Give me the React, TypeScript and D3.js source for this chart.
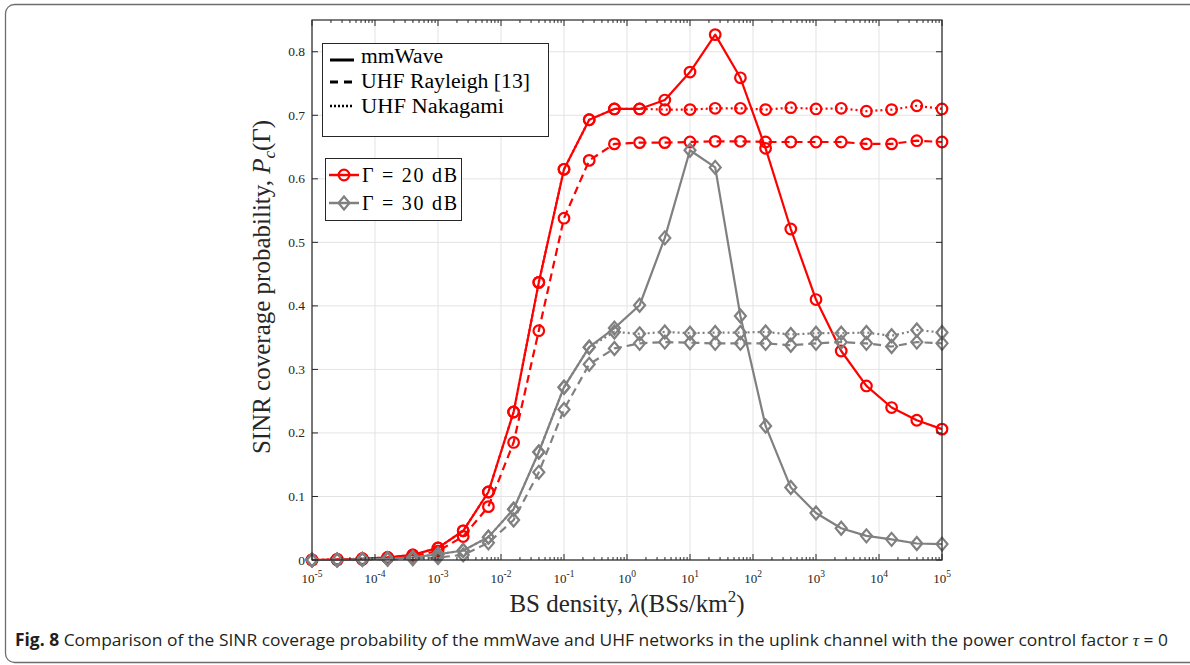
import React from "react";
import * as d3 from "d3";

// BS density samples (BSs/km^2)
const density = [1e-5, 2.512e-5, 6.31e-5, 1.585e-4, 3.981e-4, 1e-3, 2.512e-3, 6.31e-3, 1.585e-2, 3.981e-2, 0.1, 0.2512, 0.631, 1.585, 3.981, 10, 25.12, 63.1, 158.5, 398.1, 1000, 2512, 6310, 15850, 39810, 1e5];

const mm20 = [0.000, 0.001, 0.002, 0.004, 0.008, 0.019, 0.046, 0.107, 0.233, 0.437, 0.615, 0.693, 0.710, 0.710, 0.724, 0.768, 0.827, 0.759, 0.648, 0.521, 0.410, 0.329, 0.274, 0.240, 0.220, 0.206];
const ray20 = [0.000, 0.000, 0.001, 0.003, 0.006, 0.014, 0.037, 0.084, 0.185, 0.361, 0.538, 0.629, 0.655, 0.657, 0.657, 0.658, 0.659, 0.659, 0.658, 0.658, 0.658, 0.658, 0.655, 0.655, 0.660, 0.658];
const nak20 = [0.000, 0.001, 0.002, 0.004, 0.008, 0.019, 0.046, 0.107, 0.233, 0.437, 0.615, 0.693, 0.710, 0.710, 0.709, 0.709, 0.711, 0.711, 0.709, 0.712, 0.710, 0.711, 0.7065, 0.709, 0.715, 0.710];

const mm30 = [0.000, 0.000, 0.001, 0.002, 0.004, 0.009, 0.015, 0.036, 0.080, 0.170, 0.272, 0.335, 0.365, 0.401, 0.507, 0.645, 0.618, 0.384, 0.211, 0.114, 0.074, 0.050, 0.038, 0.0325, 0.026, 0.025];
const ray30 = [0.000, 0.000, 0.001, 0.001, 0.002, 0.004, 0.008, 0.027, 0.063, 0.138, 0.237, 0.308, 0.333, 0.341, 0.343, 0.342, 0.341, 0.341, 0.341, 0.338, 0.341, 0.343, 0.341, 0.336, 0.343, 0.341];
const nak30 = [0.000, 0.000, 0.001, 0.002, 0.004, 0.009, 0.015, 0.036, 0.080, 0.170, 0.272, 0.335, 0.359, 0.356, 0.359, 0.357, 0.358, 0.358, 0.359, 0.355, 0.357, 0.357, 0.358, 0.353, 0.362, 0.358];

const xTickExps = [-5, -4, -3, -2, -1, 0, 1, 2, 3, 4, 5];
const yTicks = [0, 0.1, 0.2, 0.3, 0.4, 0.5, 0.6, 0.7, 0.8];
const yTickLabels = ["0", "0.1", "0.2", "0.3", "0.4", "0.5", "0.6", "0.7", "0.8"];

const RED = "#ff0000";
const GRAY = "#808080";
const SERIF = "'Liberation Serif', 'Times New Roman', serif";

const L = 312, R = 942, T = 20, B = 560;

export default function App() {
  const x = d3.scaleLog().domain([1e-5, 1e5]).range([L, R]);
  const y = d3.scaleLinear().domain([0, 0.85]).range([B, T]);
  const line = d3.line<number>().x((_, i) => x(density[i])).y((d) => y(d));

  const minor: number[] = [];
  for (let k = -5; k < 5; k++) for (let m = 2; m <= 9; m++) minor.push(m * Math.pow(10, k));

  const series = [
    { data: mm20, color: RED, dash: undefined, marker: "o" },
    { data: ray20, color: RED, dash: "8,5", marker: "o" },
    { data: nak20, color: RED, dash: "2,3", marker: "o" },
    { data: mm30, color: GRAY, dash: undefined, marker: "d" },
    { data: ray30, color: GRAY, dash: "8,5", marker: "d" },
    { data: nak30, color: GRAY, dash: "2,3", marker: "d" },
  ];

  const marker = (kind: string, cx: number, cy: number, color: string, key: string) =>
    kind === "o" ? (
      <circle key={key} cx={cx} cy={cy} r={5.3} fill="none" stroke={color} strokeWidth={2.2} />
    ) : (
      <path key={key} d={`M${cx},${cy - 6.5}L${cx + 5.5},${cy}L${cx},${cy + 6.5}L${cx - 5.5},${cy}Z`} fill="none" stroke={color} strokeWidth={2.2} />
    );

  return (
    <svg width={1190} height={665} style={{ position: "absolute", left: 0, top: 0, background: "#fff" }}>
      <rect x={5.5} y={4.5} width={1300} height={658} rx={9} fill="#fff" stroke="#6e6e6e" strokeWidth={1.3} />

      {/* grid */}
      {xTickExps.map((e) => (
        <line key={"gx" + e} x1={x(Math.pow(10, e))} x2={x(Math.pow(10, e))} y1={T} y2={B} stroke="#e3e3e3" strokeWidth={1} />
      ))}
      {yTicks.map((v) => (
        <line key={"gy" + v} x1={L} x2={R} y1={y(v)} y2={y(v)} stroke="#e3e3e3" strokeWidth={1} />
      ))}

      {/* series */}
      {series.map((s, si) => (
        <g key={"s" + si}>
          <path d={line(s.data) || ""} fill="none" stroke={s.color} strokeWidth={2.2} strokeDasharray={s.dash} strokeLinejoin="round" />
          {s.data.map((v, i) => marker(s.marker, x(density[i]), y(v), s.color, "m" + si + "-" + i))}
        </g>
      ))}

      {/* axes box */}
      <rect x={L} y={T} width={R - L} height={B - T} fill="none" stroke="#262626" strokeWidth={1.2} />
      {xTickExps.map((e) => (
        <g key={"tx" + e}>
          <line x1={x(Math.pow(10, e))} x2={x(Math.pow(10, e))} y1={B} y2={B - 6} stroke="#262626" />
          <line x1={x(Math.pow(10, e))} x2={x(Math.pow(10, e))} y1={T} y2={T + 6} stroke="#262626" />
          <text x={x(Math.pow(10, e))} y={583} textAnchor="middle" fontFamily={SERIF} fontSize={13} fill="#262626">
            10<tspan dy={-6} fontSize={9.5}>{e}</tspan>
          </text>
        </g>
      ))}
      {minor.map((v, i) => (
        <g key={"mx" + i}>
          <line x1={x(v)} x2={x(v)} y1={B} y2={B - 3} stroke="#262626" />
          <line x1={x(v)} x2={x(v)} y1={T} y2={T + 3} stroke="#262626" />
        </g>
      ))}
      {yTicks.map((v, i) => (
        <g key={"ty" + v}>
          <line x1={L} x2={L + 6} y1={y(v)} y2={y(v)} stroke="#262626" />
          <line x1={R} x2={R - 6} y1={y(v)} y2={y(v)} stroke="#262626" />
          <text x={305} y={y(v) + 4.5} textAnchor="end" fontFamily={SERIF} fontSize={13.5} fill="#262626">
            {yTickLabels[i]}
          </text>
        </g>
      ))}

      {/* axis labels */}
      <text x={627} y={612} textAnchor="middle" fontFamily={SERIF} fontSize={25} fill="#262626">
        BS density, <tspan fontStyle="italic">λ</tspan>(BSs/km<tspan dy={-10} fontSize={17}>2</tspan><tspan dy={10}>)</tspan>
      </text>
      <text transform="translate(270,287) rotate(-90)" textAnchor="middle" fontFamily={SERIF} fontSize={25} fill="#262626">
        SINR coverage probability, <tspan fontStyle="italic">P</tspan><tspan fontStyle="italic" fontSize={17} dy={5}>c</tspan><tspan dy={-5}>(Γ)</tspan>
      </text>

      {/* legend 1 */}
      <rect x={322.5} y={43.5} width={226} height={93} fill="#fff" stroke="#262626" strokeWidth={1} />
      <line x1={330} x2={354} y1={60} y2={60} stroke="#000" strokeWidth={3} />
      <line x1={330} x2={354} y1={82} y2={82} stroke="#000" strokeWidth={3} strokeDasharray="8,6" />
      <line x1={330} x2={354} y1={106} y2={106} stroke="#000" strokeWidth={2.5} strokeDasharray="2,2" />
      <text x={361} y={63} fontFamily={SERIF} fontSize={20} fill="#000" textLength={82} lengthAdjust="spacingAndGlyphs">mmWave</text>
      <text x={361} y={88} fontFamily={SERIF} fontSize={20} fill="#000" textLength={169} lengthAdjust="spacingAndGlyphs">UHF Rayleigh [13]</text>
      <text x={361} y={113} fontFamily={SERIF} fontSize={20} fill="#000" textLength={143} lengthAdjust="spacingAndGlyphs">UHF Nakagami</text>

      {/* legend 2 */}
      <rect x={325.5} y={158.5} width={136} height={62} fill="#fff" stroke="#262626" strokeWidth={1} />
      <line x1={329} x2={359} y1={175} y2={175} stroke={RED} strokeWidth={2.5} />
      {marker("o", 344, 175, RED, "lg1")}
      <text x={362} y={182} fontFamily={SERIF} fontSize={20} fill="#000" textLength={95} lengthAdjust="spacing">Γ = 20 dB</text>
      <line x1={329} x2={359} y1={203} y2={203} stroke={GRAY} strokeWidth={2.5} />
      {marker("d", 344, 203, GRAY, "lg2")}
      <text x={362} y={210} fontFamily={SERIF} fontSize={20} fill="#000" textLength={95} lengthAdjust="spacing">Γ = 30 dB</text>

      {/* caption */}
      <text x={15} y={646} fontFamily="'Open Sans', 'Noto Sans', sans-serif" fontSize={17} fill="#231f20" textLength={1153} lengthAdjust="spacingAndGlyphs">
        <tspan fontWeight="bold">Fig. 8</tspan> Comparison of the SINR coverage probability of the mmWave and UHF networks in the uplink channel with the power control factor <tspan fontStyle="italic" fontFamily={SERIF}>τ</tspan> = 0
      </text>
    </svg>
  );
}
